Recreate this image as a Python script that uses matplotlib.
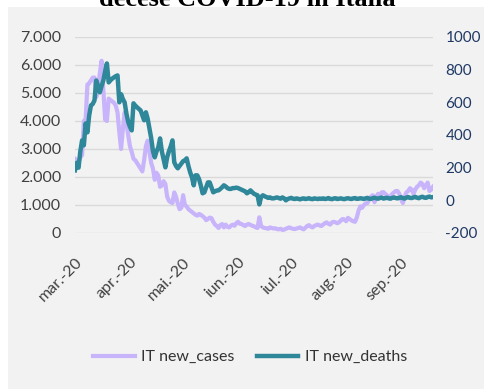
import matplotlib.pyplot as plt
from matplotlib.patches import Rectangle
from matplotlib.ticker import FuncFormatter, MultipleLocator
import pandas as pd

# daily new cases / new deaths in Italy, from 12 March 2020
new_cases = [
    2650, 2600, 2550, 2700, 2780, 4000, 4050, 5300, 5350, 5450,
    5550, 5550, 4850, 5200, 5700, 6150, 5100, 4050, 4000, 4800,
    4750, 4700, 4650, 4550, 4300, 3600, 3000, 3700, 4300, 3950,
    3500, 3100, 2900, 2650, 2600, 2500, 2400, 2300, 2200, 2600,
    3100, 3300, 2900, 2500, 2300, 1900, 2150, 2050, 1650, 1700,
    1850, 1750, 1300, 1150, 1100, 1070, 1450, 1300, 1050, 850,
    900, 1350, 1000, 950, 850, 800, 750, 700, 650, 620,
    680, 650, 600, 550, 460, 500, 550, 530, 400, 300,
    250, 180, 280, 320, 200, 300, 220, 200, 260, 300,
    260, 350, 400, 330, 320, 280, 250, 300, 320, 290,
    260, 240, 200, 180, 560, 250, 200, 180, 170, 150,
    200, 180, 160, 170, 140, 130, 150, 110, 120, 150,
    180, 200, 170, 150, 140, 160, 180, 200, 160, 130,
    190, 250, 280, 230, 200, 250, 280, 300, 270, 250,
    300, 350, 380, 330, 300, 380, 400, 380, 350, 380,
    450, 500, 480, 420, 540, 500, 450, 420, 400, 550,
    800, 950, 900, 1000, 1050, 1070, 1200, 1300, 1350, 1100,
    1300, 1400, 1300, 1450, 1460, 1400, 1350, 1250, 1300, 1400,
    1450, 1500, 1500, 1400, 1200, 1070, 1300, 1450, 1500, 1600,
    1550, 1400, 1550, 1650, 1700, 1800, 1750, 1600, 1700, 1800,
    1500, 1550, 1650,
]
new_deaths = [
    184, 230, 200, 300, 367, 337, 471, 416, 520, 581,
    590, 612, 734, 700, 661, 700, 734, 790, 838, 722,
    735, 745, 753, 760, 765, 600, 650, 620, 600, 532,
    480, 450, 428, 594, 580, 570, 560, 551, 520, 490,
    539, 500, 441, 380, 300, 263, 300, 324, 379, 300,
    250, 202, 263, 300, 330, 367, 233, 210, 196, 210,
    225, 240, 245, 257, 210, 171, 140, 92, 153, 153,
    130, 90, 43, 49, 80, 110, 110, 80, 49, 55,
    60, 61, 70, 80, 92, 85, 75, 70, 70, 75,
    75, 78, 75, 70, 65, 60, 55, 43, 50, 61,
    50, 40, 35, 31, -25, 20, 31, 25, 20, 15,
    18, 12, 12, 15, 18, 14, 10, 18, 12, 0,
    8, 12, 15, 10, 8, 12, 9, 6, 10, 12,
    8, 10, 13, 9, 7, 12, 10, 8, 11, 9,
    12, 8, 10, 14, 9, 7, 11, 13, 8, 10,
    12, 9, 7, 11, 13, 10, 8, 12, 14, 9,
    10, 13, 11, 8, 12, 15, 10, 9, 13, 16,
    12, 10, 14, 17, 11, 13, 16, 12, 10, 15,
    18, 14, 12, 16, 19, 13, 11, 17, 20, 15,
    14, 18, 21, 16, 13, 19, 22, 17, 15, 20,
    23, 18, 20,
]
dates = pd.date_range('2020-03-12', periods=len(new_cases), freq='D')
month_ticks = pd.date_range('2020-03-12', periods=7, freq=pd.DateOffset(months=1))
month_labels = ['mar.-20', 'apr.-20', 'mai.-20', 'iun.-20', 'iul.-20', 'aug.-20', 'sep.-20']

plt.rcParams['font.family'] = 'Lato'
plt.rcParams['axes.unicode_minus'] = False

W, H = 484, 389
fig = plt.figure(figsize=(W / 100, H / 100), dpi=100)
fig.add_artist(Rectangle((8 / W, 0), 1, 1 - 7 / H, transform=fig.transFigure,
                         facecolor='#f2f2f2', edgecolor='none', zorder=-10))

ax = fig.add_axes([75 / W, 1 - 233 / H, (433 - 75) / W, (233 - 37) / H])
ax.set_facecolor('none')
ax2 = ax.twinx()

l1, = ax.plot(dates, new_cases, color='#c8b4fa', lw=3, label='IT new_cases')
l2, = ax2.plot(dates, new_deaths, color='#2f879a', lw=3.2, label='IT new_deaths')

ax.set_xlim(dates[0], dates[-1])
ax.set_ylim(0, 7000)
ax2.set_ylim(-200, 1000)
ax.yaxis.set_major_locator(MultipleLocator(1000))
ax2.yaxis.set_major_locator(MultipleLocator(200))
ax.yaxis.set_major_formatter(FuncFormatter(lambda v, p: f'{int(v):,}'.replace(',', '.')))

ax.grid(axis='y', color='#d9d9d9', lw=1)
ax.set_axisbelow(True)
for a in (ax, ax2):
    for s in a.spines.values():
        s.set_visible(False)

ax.tick_params(axis='y', length=0, pad=10, labelsize=11.5, labelcolor='#404040')
ax2.tick_params(axis='y', length=0, pad=9, labelsize=11, labelcolor='#1f3864')
ax.set_xticks(month_ticks)
ax.set_xticklabels(month_labels, rotation=45, ha='right', rotation_mode='anchor')
ax.tick_params(axis='x', length=0, pad=16, labelsize=11.5, labelcolor='#404040')

fig.legend(handles=[l1, l2], loc='center', bbox_to_anchor=(250 / W, 1 - 357 / H),
           ncol=2, frameon=False, fontsize=11.5, handlelength=2.6,
           columnspacing=1.4, handletextpad=0.4, labelcolor='#333333')

fig.text(247 / W, 1 - 6 / H, 'decese COVID-19 in Italia', ha='center', va='baseline',
         fontsize=19, fontweight='bold', family='Liberation Serif')

fig.savefig('out.png', dpi=100, facecolor='white')
